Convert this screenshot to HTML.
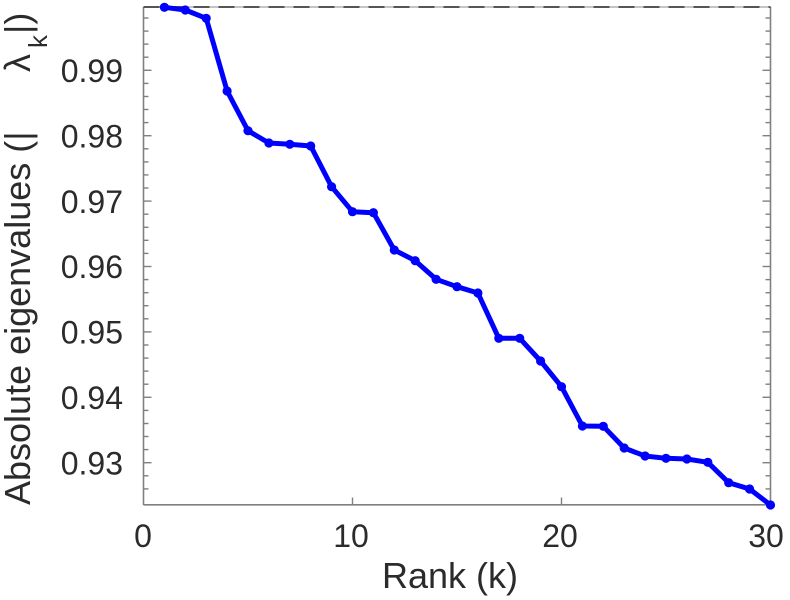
<!DOCTYPE html>
<html>
<head>
<meta charset="utf-8">
<style>
  html, body { margin: 0; padding: 0; background: #ffffff; }
  body { width: 790px; height: 600px; overflow: hidden; }
  svg { display: block; }
  text { font-family: "Liberation Sans", "DejaVu Sans", sans-serif; fill: #2b2b2b; }
</style>
</head>
<body>
<svg width="790" height="600" viewBox="0 0 790 600" xmlns="http://www.w3.org/2000/svg">
  <rect x="0" y="0" width="790" height="600" fill="#ffffff"/>

  <!-- axes box -->
  <g stroke="#808080" stroke-width="1.6" fill="none">
    <line x1="143.5" y1="7" x2="143.5" y2="505"/>
    <line x1="770.5" y1="7" x2="770.5" y2="505"/>
    <line x1="143.5" y1="504.8" x2="770.5" y2="504.8"/>
  </g>
  <!-- top dashed border -->
  <line x1="143.5" y1="7" x2="770.5" y2="7" stroke="#b0b0b0" stroke-width="1.6"/>
  <line x1="143.5" y1="7" x2="770.5" y2="7" stroke="#555555" stroke-width="2" stroke-dasharray="16 9"/>

  <!-- y ticks (left inward, right inward) -->
  <g stroke="#808080" stroke-width="1.4">
    <!-- minor ticks every 0.002 -->
    <line x1="143.5" y1="18.0" x2="148.5" y2="18.0"/><line x1="770.5" y1="18.0" x2="765.5" y2="18.0"/>
    <line x1="143.5" y1="31.1" x2="148.5" y2="31.1"/><line x1="770.5" y1="31.1" x2="765.5" y2="31.1"/>
    <line x1="143.5" y1="44.1" x2="148.5" y2="44.1"/><line x1="770.5" y1="44.1" x2="765.5" y2="44.1"/>
    <line x1="143.5" y1="57.2" x2="148.5" y2="57.2"/><line x1="770.5" y1="57.2" x2="765.5" y2="57.2"/>
    <line x1="143.5" y1="70.3" x2="151.5" y2="70.3"/><line x1="770.5" y1="70.3" x2="762.5" y2="70.3"/>
    <line x1="143.5" y1="83.4" x2="148.5" y2="83.4"/><line x1="770.5" y1="83.4" x2="765.5" y2="83.4"/>
    <line x1="143.5" y1="96.5" x2="148.5" y2="96.5"/><line x1="770.5" y1="96.5" x2="765.5" y2="96.5"/>
    <line x1="143.5" y1="109.5" x2="148.5" y2="109.5"/><line x1="770.5" y1="109.5" x2="765.5" y2="109.5"/>
    <line x1="143.5" y1="122.6" x2="148.5" y2="122.6"/><line x1="770.5" y1="122.6" x2="765.5" y2="122.6"/>
    <line x1="143.5" y1="135.7" x2="151.5" y2="135.7"/><line x1="770.5" y1="135.7" x2="762.5" y2="135.7"/>
    <line x1="143.5" y1="148.8" x2="148.5" y2="148.8"/><line x1="770.5" y1="148.8" x2="765.5" y2="148.8"/>
    <line x1="143.5" y1="161.9" x2="148.5" y2="161.9"/><line x1="770.5" y1="161.9" x2="765.5" y2="161.9"/>
    <line x1="143.5" y1="174.9" x2="148.5" y2="174.9"/><line x1="770.5" y1="174.9" x2="765.5" y2="174.9"/>
    <line x1="143.5" y1="188.0" x2="148.5" y2="188.0"/><line x1="770.5" y1="188.0" x2="765.5" y2="188.0"/>
    <line x1="143.5" y1="201.1" x2="151.5" y2="201.1"/><line x1="770.5" y1="201.1" x2="762.5" y2="201.1"/>
    <line x1="143.5" y1="214.2" x2="148.5" y2="214.2"/><line x1="770.5" y1="214.2" x2="765.5" y2="214.2"/>
    <line x1="143.5" y1="227.3" x2="148.5" y2="227.3"/><line x1="770.5" y1="227.3" x2="765.5" y2="227.3"/>
    <line x1="143.5" y1="240.3" x2="148.5" y2="240.3"/><line x1="770.5" y1="240.3" x2="765.5" y2="240.3"/>
    <line x1="143.5" y1="253.4" x2="148.5" y2="253.4"/><line x1="770.5" y1="253.4" x2="765.5" y2="253.4"/>
    <line x1="143.5" y1="266.5" x2="151.5" y2="266.5"/><line x1="770.5" y1="266.5" x2="762.5" y2="266.5"/>
    <line x1="143.5" y1="279.6" x2="148.5" y2="279.6"/><line x1="770.5" y1="279.6" x2="765.5" y2="279.6"/>
    <line x1="143.5" y1="292.7" x2="148.5" y2="292.7"/><line x1="770.5" y1="292.7" x2="765.5" y2="292.7"/>
    <line x1="143.5" y1="305.7" x2="148.5" y2="305.7"/><line x1="770.5" y1="305.7" x2="765.5" y2="305.7"/>
    <line x1="143.5" y1="318.8" x2="148.5" y2="318.8"/><line x1="770.5" y1="318.8" x2="765.5" y2="318.8"/>
    <line x1="143.5" y1="331.9" x2="151.5" y2="331.9"/><line x1="770.5" y1="331.9" x2="762.5" y2="331.9"/>
    <line x1="143.5" y1="345.0" x2="148.5" y2="345.0"/><line x1="770.5" y1="345.0" x2="765.5" y2="345.0"/>
    <line x1="143.5" y1="358.1" x2="148.5" y2="358.1"/><line x1="770.5" y1="358.1" x2="765.5" y2="358.1"/>
    <line x1="143.5" y1="371.1" x2="148.5" y2="371.1"/><line x1="770.5" y1="371.1" x2="765.5" y2="371.1"/>
    <line x1="143.5" y1="384.2" x2="148.5" y2="384.2"/><line x1="770.5" y1="384.2" x2="765.5" y2="384.2"/>
    <line x1="143.5" y1="397.3" x2="151.5" y2="397.3"/><line x1="770.5" y1="397.3" x2="762.5" y2="397.3"/>
    <line x1="143.5" y1="410.4" x2="148.5" y2="410.4"/><line x1="770.5" y1="410.4" x2="765.5" y2="410.4"/>
    <line x1="143.5" y1="423.5" x2="148.5" y2="423.5"/><line x1="770.5" y1="423.5" x2="765.5" y2="423.5"/>
    <line x1="143.5" y1="436.5" x2="148.5" y2="436.5"/><line x1="770.5" y1="436.5" x2="765.5" y2="436.5"/>
    <line x1="143.5" y1="449.6" x2="148.5" y2="449.6"/><line x1="770.5" y1="449.6" x2="765.5" y2="449.6"/>
    <line x1="143.5" y1="462.7" x2="151.5" y2="462.7"/><line x1="770.5" y1="462.7" x2="762.5" y2="462.7"/>
    <line x1="143.5" y1="475.8" x2="148.5" y2="475.8"/><line x1="770.5" y1="475.8" x2="765.5" y2="475.8"/>
    <line x1="143.5" y1="488.9" x2="148.5" y2="488.9"/><line x1="770.5" y1="488.9" x2="765.5" y2="488.9"/>
    <!-- x ticks -->
    <line x1="352.5" y1="504.8" x2="352.5" y2="497.5"/>
    <line x1="561.5" y1="504.8" x2="561.5" y2="497.5"/>
  </g>

  <!-- y tick labels -->
  <g font-size="32" text-anchor="end">
    <text x="123" y="82">0.99</text>
    <text x="123" y="147.4">0.98</text>
    <text x="123" y="212.8">0.97</text>
    <text x="123" y="278.2">0.96</text>
    <text x="123" y="343.6">0.95</text>
    <text x="123" y="409">0.94</text>
    <text x="123" y="474.4">0.93</text>
  </g>

  <!-- x tick labels -->
  <g font-size="32" text-anchor="middle">
    <text x="143" y="547">0</text>
    <text x="351" y="547">10</text>
    <text x="560" y="547">20</text>
    <text x="766" y="547">30</text>
  </g>

  <!-- axis labels -->
  <text x="450" y="588" font-size="36" text-anchor="middle">Rank (k)</text>
  <text transform="translate(30,505) rotate(-90)" font-size="36">Absolute eigenvalues (|</text>
  <text transform="translate(30,72) rotate(-90)" font-size="36">λ</text>
  <text transform="translate(47,48) rotate(-90)" font-size="26">k</text>
  <text transform="translate(30,34) rotate(-90)" font-size="36">|)</text>

  <!-- series -->
  <polyline fill="none" stroke="#0000ff" stroke-width="5" stroke-linejoin="round" stroke-linecap="round"
    points="164.4,7.3 185.3,10 206.2,18.3 227.1,91 248,130.7 268.9,143 289.8,144.3 310.7,146 331.6,186.7 352.5,211.7 373.4,212.7 394.3,250 415.2,260.7 436.1,279.3 457,286.7 477.9,293 498.8,338.3 519.7,338.3 540.6,361 561.5,386.7 582.4,426 603.3,426.3 624.2,448 645.1,456 666,458.3 686.9,459 707.8,462.3 728.7,482.7 749.6,489 770.5,505"/>
  <g fill="#0000ff">
    <circle cx="164.4" cy="7.3" r="4.6"/>
    <circle cx="185.3" cy="10" r="4.6"/>
    <circle cx="206.2" cy="18.3" r="4.6"/>
    <circle cx="227.1" cy="91" r="4.6"/>
    <circle cx="248" cy="130.7" r="4.6"/>
    <circle cx="268.9" cy="143" r="4.6"/>
    <circle cx="289.8" cy="144.3" r="4.6"/>
    <circle cx="310.7" cy="146" r="4.6"/>
    <circle cx="331.6" cy="186.7" r="4.6"/>
    <circle cx="352.5" cy="211.7" r="4.6"/>
    <circle cx="373.4" cy="212.7" r="4.6"/>
    <circle cx="394.3" cy="250" r="4.6"/>
    <circle cx="415.2" cy="260.7" r="4.6"/>
    <circle cx="436.1" cy="279.3" r="4.6"/>
    <circle cx="457" cy="286.7" r="4.6"/>
    <circle cx="477.9" cy="293" r="4.6"/>
    <circle cx="498.8" cy="338.3" r="4.6"/>
    <circle cx="519.7" cy="338.3" r="4.6"/>
    <circle cx="540.6" cy="361" r="4.6"/>
    <circle cx="561.5" cy="386.7" r="4.6"/>
    <circle cx="582.4" cy="426" r="4.6"/>
    <circle cx="603.3" cy="426.3" r="4.6"/>
    <circle cx="624.2" cy="448" r="4.6"/>
    <circle cx="645.1" cy="456" r="4.6"/>
    <circle cx="666" cy="458.3" r="4.6"/>
    <circle cx="686.9" cy="459" r="4.6"/>
    <circle cx="707.8" cy="462.3" r="4.6"/>
    <circle cx="728.7" cy="482.7" r="4.6"/>
    <circle cx="749.6" cy="489" r="4.6"/>
    <circle cx="770.5" cy="505" r="4.6"/>
  </g>
</svg>
</body>
</html>
